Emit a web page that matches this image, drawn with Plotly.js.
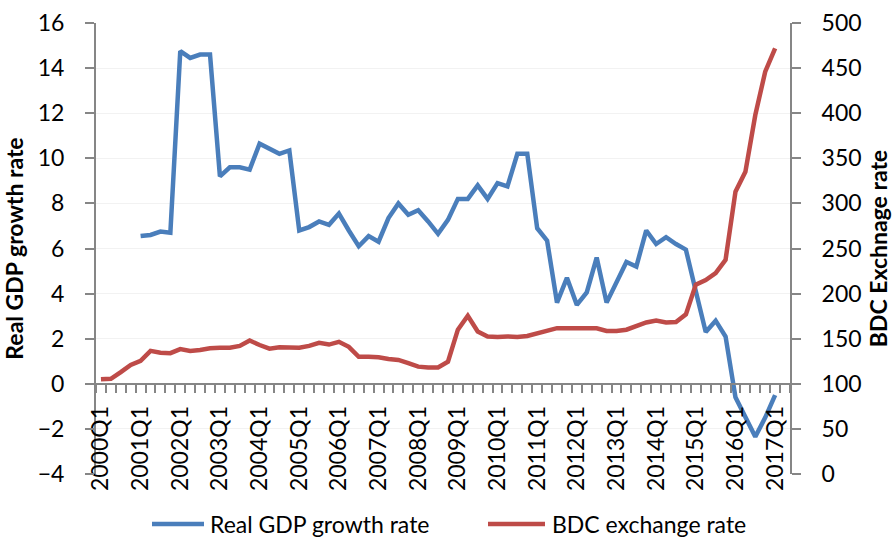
<!DOCTYPE html>
<html>
<head>
<meta charset="utf-8">
<script src="https://cdn.plot.ly/plotly-3.0.1.min.js"></script>
<style>html,body{margin:0;padding:0;background:#fff;}#chart{width:892px;height:541px;}</style>
</head>
<body>
<div id="chart"></div>
<script>
// Quarter categories 2000Q1 .. 2017Q2
const years = ["2000","2001","2002","2003","2004","2005","2006","2007","2008","2009","2010","2011","2012","2013","2014","2015","2016","2017"];
const quarters = [];
years.forEach(y => { for (let q = 1; q <= 4; q++) quarters.push(y + "Q" + q); });
const categories = quarters.slice(0, 70);

// Series names
const seriesNames = ["Real GDP growth rate", "BDC exchange rate"];

// Real GDP growth rate (%), 2001Q1 .. 2017Q1
const gdpGrowth = [
  null, null, null, null,
  6.55, 6.6, 6.75, 6.7,
  14.75, 14.45, 14.6, 14.6,
  9.2, 9.6, 9.6, 9.5,
  10.65, 10.45, 10.2, 10.35,
  6.8, 6.95, 7.2, 7.05,
  7.55, 6.8, 6.1, 6.55,
  6.3, 7.35, 8.0, 7.5,
  7.7, 7.2, 6.65, 7.27,
  8.2, 8.2, 8.8, 8.2,
  8.9, 8.75, 10.2, 10.2,
  6.9, 6.35, 3.6, 4.7,
  3.5, 4.05, 5.6, 3.6,
  4.5, 5.4, 5.2, 6.8,
  6.2, 6.5, 6.2, 5.95,
  4.1, 2.3, 2.8, 2.1,
  -0.6, -1.5, -2.35, -1.5,
  -0.5, null
];

// BDC exchange rate, 2000Q1 .. 2017Q1
const bdcRate = [
  105, 105.5, 113, 121,
  125.5, 136.5, 134.5, 134,
  138.5, 136.5, 137.5, 139.5,
  140, 140, 142, 148,
  143, 139, 140.5, 140.5,
  140, 142, 145.5, 143.5,
  146.5, 141, 130, 130,
  129.5, 127.5, 126.5, 123,
  119, 118, 118, 124.5,
  160, 175.5, 158, 152.5,
  151.8, 152.5, 151.8, 153,
  156, 158, 161.7, 161.7,
  161.7, 160.8, 161.5, 158.5,
  158.5, 160, 163.5, 168,
  170, 168, 168.5, 177,
  210, 215, 222.7, 237.5,
  313, 335, 398, 446,
  472, null
];

const xIdx = categories.map((c, i) => i);
const labelIdx = xIdx.filter(i => i % 4 === 0);
const labelText = labelIdx.map(i => categories[i]);
const boundaries = [];
for (let i = 0; i <= categories.length; i++) boundaries.push(i - 0.5);

const FONT = "Lato, 'Open Sans', sans-serif";
const AX = "#868686";
const BLUE = "#4A7EBB", RED = "#BE4B48";

const traces = [
  {x: xIdx, y: gdpGrowth, name: seriesNames[0], type: "scatter", mode: "lines",
   line: {color: BLUE, width: 4.5}, yaxis: "y", connectgaps: false, hoverinfo: "skip"},
  {x: xIdx, y: bdcRate, name: seriesNames[1], type: "scatter", mode: "lines",
   line: {color: RED, width: 4.5}, yaxis: "y2", hoverinfo: "skip"}
];

// custom legend (paper coordinates of the plot area)
const px = v => (v - 96) / 694;
const py = v => (474 - v) / 451;
const legY = py(524);
const shapes = [
  {type: "line", xref: "paper", yref: "paper", x0: px(152), x1: px(204), y0: legY, y1: legY,
   line: {color: BLUE, width: 4.5}},
  {type: "line", xref: "paper", yref: "paper", x0: px(488), x1: px(545), y0: legY, y1: legY,
   line: {color: RED, width: 4.5}}
];
const annotations = [
  {xref: "paper", yref: "paper", x: px(208), y: legY, xanchor: "left", yanchor: "middle",
   text: seriesNames[0], showarrow: false, font: {size: 23, family: FONT}},
  {xref: "paper", yref: "paper", x: px(550), y: legY, xanchor: "left", yanchor: "middle",
   text: seriesNames[1], showarrow: false, font: {size: 23, family: FONT}}
];

const layout = {
  width: 892, height: 541,
  margin: {l: 96, r: 102, t: 23, b: 67, pad: 0},
  paper_bgcolor: "#fff", plot_bgcolor: "#fff",
  font: {family: FONT, color: "#000", size: 23},
  showlegend: false,
  shapes: shapes,
  annotations: annotations,
  xaxis: {
    range: [-0.5, 69.5], anchor: "free", position: 0.2, fixedrange: true,
    tickmode: "array", tickvals: labelIdx, ticktext: labelText, tickangle: -90,
    ticks: "outside", ticklen: 8, tickcolor: "rgba(0,0,0,0)", ticklabelstandoff: 4,
    showline: true, linecolor: AX, linewidth: 2, showgrid: false, zeroline: false,
    tickfont: {size: 23, family: FONT},
    minor: {tickmode: "array", tickvals: boundaries, ticks: "outside", ticklen: 8, tickcolor: AX, tickwidth: 2, showgrid: false},
    automargin: false
  },
  yaxis: {
    range: [-4, 16], dtick: 2, tick0: 0, fixedrange: true,
    ticks: "outside", ticklen: 9, tickcolor: AX, tickwidth: 2,
    showline: true, linecolor: AX, linewidth: 2,
    showgrid: true, gridcolor: "#f2f2f2", gridwidth: 1, zeroline: false,
    tickfont: {size: 23, family: FONT}, ticklabelstandoff: 16,
    title: {text: "Real GDP growth rate", font: {size: 23, family: FONT, weight: "bold"}, standoff: 14},
    automargin: false
  },
  yaxis2: {
    range: [0, 500], dtick: 50, tick0: 0, overlaying: "y", side: "right", fixedrange: true,
    ticks: "outside", ticklen: 9, tickcolor: AX, tickwidth: 2,
    showline: true, linecolor: AX, linewidth: 2, showgrid: false, zeroline: false,
    tickfont: {size: 23, family: FONT}, ticklabelstandoff: 16,
    title: {text: "BDC Exchnage rate", font: {size: 23, family: FONT, weight: "bold"}, standoff: 12},
    automargin: false
  }
};

Plotly.newPlot("chart", traces, layout, {staticPlot: true, displayModeBar: false});
</script>
</body>
</html>
